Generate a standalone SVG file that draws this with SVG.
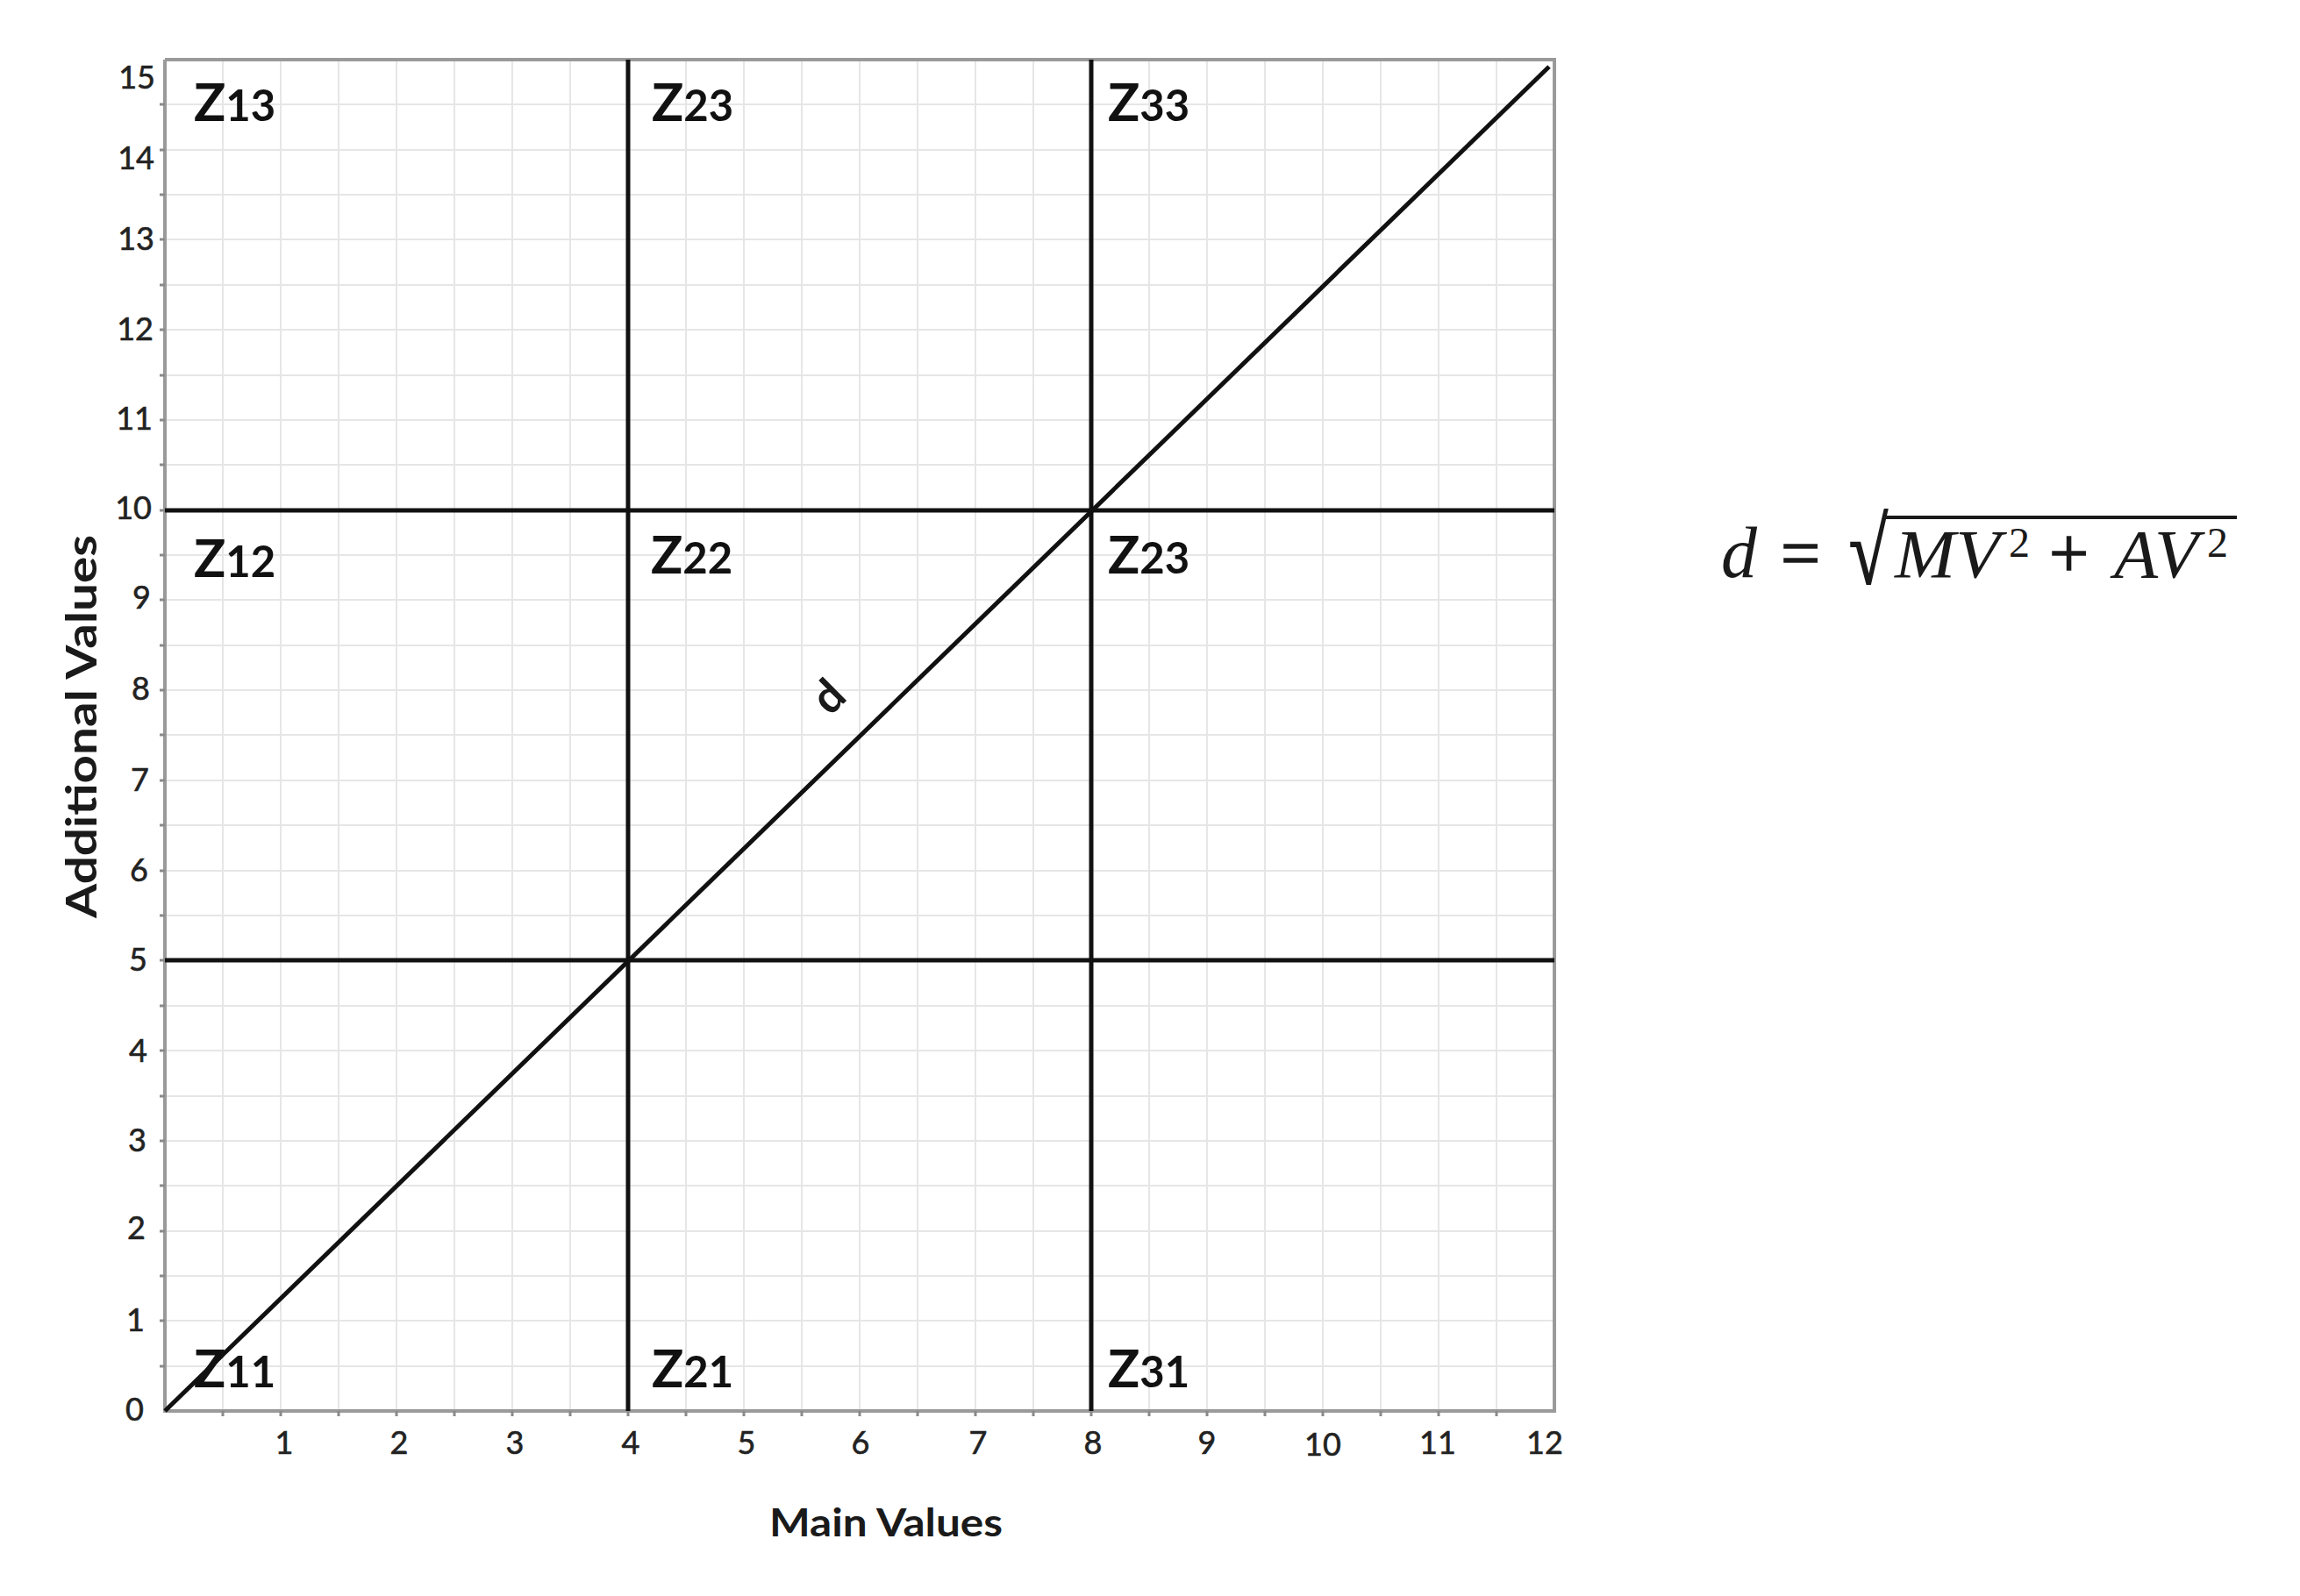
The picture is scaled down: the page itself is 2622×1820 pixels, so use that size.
<svg xmlns="http://www.w3.org/2000/svg" width="2622" height="1820" viewBox="0 0 2622 1820">
<style>
.grid{stroke:#e6e6e6;stroke-width:2;fill:none}
.axis{stroke:#9a9a9a;stroke-width:4;fill:none}
.tick{stroke:#8a8a8a;stroke-width:3}
.bold{stroke:#111;stroke-width:5;fill:none}
.tl{font-family:Lato,"Liberation Sans",sans-serif;font-size:36px;fill:#222;stroke:#222;stroke-width:0.6}
.ytl{text-anchor:end}
.xtl{text-anchor:middle}
.zl{font-family:Lato,"Liberation Sans",sans-serif;font-weight:bold;font-size:60px;fill:#111}
.zl tspan.s{font-size:49px}
.ax{font-family:Lato,"Liberation Sans",sans-serif;font-weight:bold;fill:#1a1a1a}
.m{font-family:"Liberation Serif","DejaVu Serif",serif;fill:#1a1a1a}
.mi{font-style:italic}
.op{stroke:#1a1a1a;stroke-width:1.5}
</style>
<rect width="2622" height="1820" fill="#fff"/>
<g id="grid">
<path class="grid" d="M254,68V1609M320,68V1609M386,68V1609M452,68V1609M518,68V1609M584,68V1609M650,68V1609M716,68V1609M782,68V1609M848,68V1609M914,68V1609M980,68V1609M1046,68V1609M1112,68V1609M1178,68V1609M1244,68V1609M1310,68V1609M1376,68V1609M1442,68V1609M1508,68V1609M1574,68V1609M1640,68V1609M1706,68V1609"/>
<path class="grid" d="M188,1558H1772M188,1506H1772M188,1455H1772M188,1404H1772M188,1352H1772M188,1301H1772M188,1250H1772M188,1198H1772M188,1147H1772M188,1095H1772M188,1044H1772M188,993H1772M188,941H1772M188,890H1772M188,838H1772M188,787H1772M188,736H1772M188,684H1772M188,633H1772M188,582H1772M188,530H1772M188,479H1772M188,428H1772M188,376H1772M188,325H1772M188,273H1772M188,222H1772M188,171H1772M188,119H1772"/>
</g>
<g id="axes">
<path class="axis" d="M188,68V1609H1772V68H188"/>
<path class="tick" d="M182,1558h6M182,1506h6M182,1455h6M182,1404h6M182,1352h6M182,1301h6M182,1250h6M182,1198h6M182,1147h6M182,1095h6M182,1044h6M182,993h6M182,941h6M182,890h6M182,838h6M182,787h6M182,736h6M182,684h6M182,633h6M182,582h6M182,530h6M182,479h6M182,428h6M182,376h6M182,325h6M182,273h6M182,222h6M182,171h6M182,119h6"/>
<path class="tick" d="M254,1609v6M320,1609v6M386,1609v6M452,1609v6M518,1609v6M584,1609v6M650,1609v6M716,1609v6M782,1609v6M848,1609v6M914,1609v6M980,1609v6M1046,1609v6M1112,1609v6M1178,1609v6M1244,1609v6M1310,1609v6M1376,1609v6M1442,1609v6M1508,1609v6M1574,1609v6M1640,1609v6M1706,1609v6"/>
</g>
<g id="y-tick-labels" class="tl ytl">
<text x="164" y="1620">0</text>
<text x="165" y="1518">1</text>
<text x="166" y="1413">2</text>
<text x="167" y="1313">3</text>
<text x="168" y="1211">4</text>
<text x="168" y="1107">5</text>
<text x="169" y="1005">6</text>
<text x="170" y="902">7</text>
<text x="171" y="798">8</text>
<text x="172" y="694">9</text>
<text x="173" y="592">10</text>
<text x="174" y="490">11</text>
<text x="175" y="388">12</text>
<text x="176" y="285">13</text>
<text x="176" y="193">14</text>
<text x="177" y="101">15</text>
</g>
<g id="x-tick-labels" class="tl xtl">
<text x="324" y="1658">1</text>
<text x="455" y="1658">2</text>
<text x="587" y="1658">3</text>
<text x="719" y="1658">4</text>
<text x="851" y="1658">5</text>
<text x="981" y="1658">6</text>
<text x="1115" y="1658">7</text>
<text x="1246" y="1658">8</text>
<text x="1376" y="1658">9</text>
<text x="1508" y="1660">10</text>
<text x="1639" y="1658">11</text>
<text x="1761" y="1658">12</text>
</g>
<g id="axis-titles">
<text class="ax" x="877" y="1752" font-size="44" textLength="266" lengthAdjust="spacingAndGlyphs">Main Values</text>
<text class="ax" transform="translate(110,1047) rotate(-90)" x="0" y="0" font-size="47" textLength="437" lengthAdjust="spacingAndGlyphs">Additional Values</text>
</g>
<g id="connectors">
<line class="bold" x1="716" y1="68" x2="716" y2="1609"/>
<line class="bold" x1="1244" y1="68" x2="1244" y2="1609"/>
<line class="bold" x1="188" y1="582" x2="1772" y2="582"/>
<line class="bold" x1="188" y1="1095" x2="1772" y2="1095"/>
<line class="bold" x1="188" y1="1609" x2="1766" y2="76"/>
</g>
<g id="zones" class="zl">
<g id="z13"><text x="221" y="138">Z<tspan class="s">13</tspan></text></g>
<g id="z23-top"><text x="743" y="138">Z<tspan class="s">23</tspan></text></g>
<g id="z33"><text x="1263" y="138">Z<tspan class="s">33</tspan></text></g>
<g id="z12"><text x="221" y="658">Z<tspan class="s">12</tspan></text></g>
<g id="z22"><text x="742" y="654">Z<tspan class="s">22</tspan></text></g>
<g id="z23-mid"><text x="1263" y="654">Z<tspan class="s">23</tspan></text></g>
<g id="z11"><text x="221" y="1582">Z<tspan class="s">11</tspan></text></g>
<g id="z21"><text x="743" y="1582">Z<tspan class="s">21</tspan></text></g>
<g id="z31"><text x="1263" y="1582">Z<tspan class="s">31</tspan></text></g>
</g>
<g id="d-label">
<text class="ax" font-size="52" text-anchor="middle" transform="translate(945,795) rotate(-45)" y="17">d</text>
</g>
<g id="formula" class="m">
<text class="mi" x="1962" y="658" font-size="82">d</text>
<text class="op" x="2030" y="658" font-size="80">=</text>
<text class="op" x="2108" y="662" font-size="80" transform="translate(0,-215) scale(1,1.33)" >√</text>
<line x1="2150" y1="590" x2="2550" y2="590" stroke="#1a1a1a" stroke-width="4"/>
<text class="mi" x="2160" y="658" font-size="78" textLength="120" lengthAdjust="spacingAndGlyphs">MV</text>
<text x="2290" y="635" font-size="48">2</text>
<text class="op" x="2336" y="658" font-size="80">+</text>
<text class="mi" x="2410" y="658" font-size="78" textLength="96" lengthAdjust="spacingAndGlyphs">AV</text>
<text x="2516" y="635" font-size="48">2</text>
</g>
</svg>
